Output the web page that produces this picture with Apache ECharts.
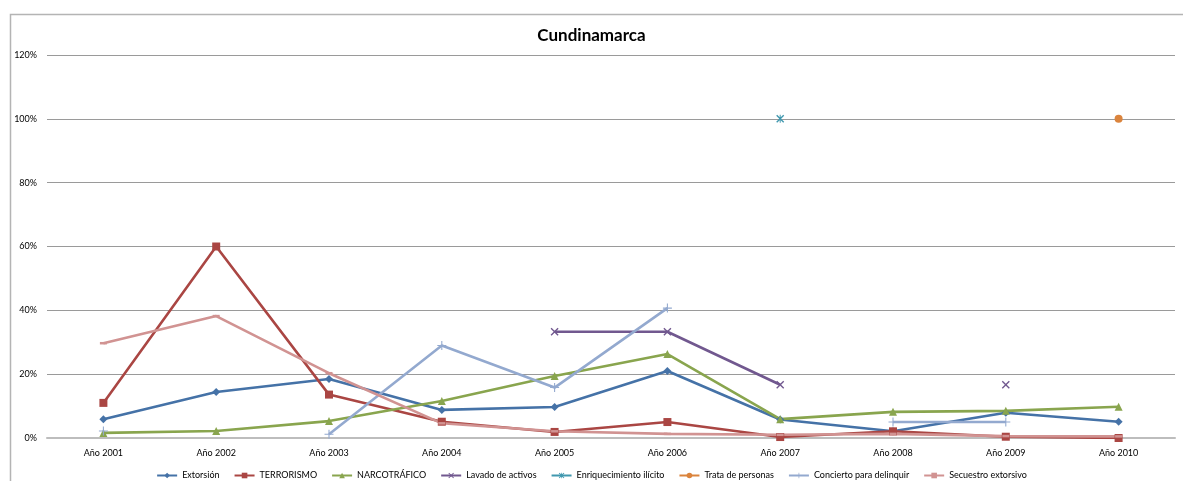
<!DOCTYPE html>
<html>
<head>
<meta charset="utf-8">
<script src="https://cdn.jsdelivr.net/npm/echarts@6/dist/echarts.min.js"></script>
<style>
  html, body { margin: 0; padding: 0; background: #fff; }
  #chart { width: 1183px; height: 481px; }
</style>
</head>
<body>
<div id="chart"></div>
<script>
// Años del periodo
const years = ['Año 2001', 'Año 2002', 'Año 2003', 'Año 2004', 'Año 2005',
               'Año 2006', 'Año 2007', 'Año 2008', 'Año 2009', 'Año 2010'];

// Participación por delito (%), null = sin dato
const extorsion       = [5.9, 14.4, 18.5, 8.8, 9.7, 21.0, 5.8, 2.1, 7.9, 5.1];
const terrorismo      = [11.0, 60.0, 13.6, 5.1, 1.9, 5.0, 0.3, 2.1, 0.4, 0.0];
const narcotrafico    = [1.6, 2.2, 5.3, 11.6, 19.4, 26.3, 5.9, 8.2, 8.5, 9.8];
const lavado          = [null, null, null, null, 33.3, 33.3, 16.7, null, 16.7, null];
const enriquecimiento = [null, null, null, null, null, null, 100, null, null, null];
const trata           = [null, null, null, null, null, null, null, null, null, 100];
const concierto       = [2.2, null, 1.2, 29.0, 15.8, 40.7, null, 5.0, 5.0, null];
const secuestro       = [29.7, 38.2, 20.3, 4.6, 2.1, 1.3, 1.0, 1.3, 0.6, 0.5];

const yTicks = [0, 20, 40, 60, 80, 100, 120];

const FONT = 'Lato, "Open Sans", sans-serif';

// Marcadores de trazo fino
const xMark = 'path://M0,1.2L1.2,0L5,3.8L8.8,0L10,1.2L6.2,5L10,8.8L8.8,10L5,6.2L1.2,10L0,8.8L3.8,5Z';
const plusMark = 'path://M4.4,0H5.6V4.4H10V5.6H5.6V10H4.4V5.6H0V4.4H4.4Z';
const starMark = 'path://M0,1.2L1.2,0L5,3.8L8.8,0L10,1.2L6.2,5L10,8.8L8.8,10L5,6.2L1.2,10L0,8.8L3.8,5Z' +
                 'M4.4,0H5.6V10H4.4Z';
const dashMark = 'path://M0,0H10V3H0Z';

function line(name, data, color, symbol, size) {
  return {
    name: name,
    type: 'line',
    data: data,
    symbol: symbol,
    symbolSize: size,
    showAllSymbol: true,
    connectNulls: false,
    lineStyle: { color: color, width: 2.6 },
    itemStyle: { color: color },
    emphasis: { disabled: true },
    animation: false
  };
}

const chart = echarts.init(document.getElementById('chart'));
chart.setOption({
  backgroundColor: '#fff',
  title: {
    text: 'Cundinamarca',
    left: 'center',
    top: 22,
    textStyle: { fontFamily: FONT, fontSize: 17, fontWeight: 'bold', color: '#000' }
  },
  graphic: [{
    type: 'polyline',
    shape: { points: [[10.5, 481], [10.5, 14.5], [1183, 14.5]] },
    style: { stroke: '#b4b4b4', lineWidth: 1.5, fill: null },
    silent: true
  }],
  legend: {
    top: 466,
    left: 'center',
    itemWidth: 20,
    itemHeight: 7,
    itemGap: 14,
    textStyle: { fontFamily: FONT, fontSize: 9, color: '#000' },
    data: ['Extorsión', 'TERRORISMO', 'NARCOTRÁFICO', 'Lavado de activos',
           'Enriquecimiento ilícito', 'Trata de personas', 'Concierto para delinquir',
           'Secuestro extorsivo']
  },
  grid: { left: 47, right: 8, top: 55, bottom: 43, containLabel: false },
  xAxis: {
    type: 'category',
    data: years,
    boundaryGap: true,
    axisLine: { lineStyle: { color: '#bdbdbd', width: 2 } },
    axisTick: { show: false },
    axisLabel: { fontFamily: FONT, fontSize: 9, color: '#000', margin: 11 }
  },
  yAxis: {
    type: 'value',
    min: yTicks[0],
    max: yTicks[yTicks.length - 1],
    interval: 20,
    axisLine: { show: false },
    axisTick: { show: false },
    axisLabel: { fontFamily: FONT, fontSize: 9, color: '#000', margin: 10,
                 formatter: v => v + '%' },
    splitLine: { lineStyle: { color: '#9a9a9a', width: 1.2 } }
  },
  series: [
    line('Extorsión', extorsion, '#4572A7', 'diamond', 8),
    line('TERRORISMO', terrorismo, '#AA4643', 'rect', 8),
    line('NARCOTRÁFICO', narcotrafico, '#89A54E', 'triangle', 8),
    line('Lavado de activos', lavado, '#71588F', xMark, 8),
    line('Enriquecimiento ilícito', enriquecimiento, '#4198AF', starMark, 8),
    line('Trata de personas', trata, '#DB843D', 'circle', 8),
    line('Concierto para delinquir', concierto, '#93A9CF', plusMark, 9),
    line('Secuestro extorsivo', secuestro, '#D19392', dashMark, [7, 2.5])
  ]
});
</script>
</body>
</html>
